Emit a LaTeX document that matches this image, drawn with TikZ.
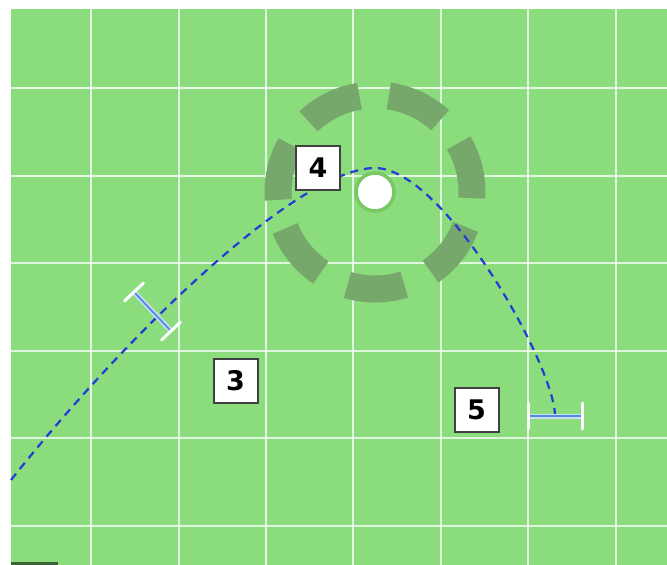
\documentclass[tikz,border=0pt]{standalone}
\usepackage{fontspec}
\setmainfont{DejaVu Sans}
\usepackage{xcolor}
\usetikzlibrary{calc}
\definecolor{fieldgreen}{RGB}{139,220,124}
\definecolor{ringgreen}{RGB}{118,168,108}
\definecolor{trackblue}{RGB}{35,60,215}
\definecolor{stemblue}{RGB}{80,140,225}
\definecolor{ballrim}{RGB}{120,200,100}

\begin{document}
\begin{tikzpicture}[
    x=1pt, y=-1pt,
    gridline/.style={draw=white, draw opacity=0.75, line width=2.2pt},
    ringdash/.style={draw=ringgreen, line width=27pt},
    track/.style={draw=trackblue, line width=2.2pt, dash pattern=on 8pt off 6pt},
    stem/.style={draw=stemblue, line width=1.8pt},
    stemglow/.style={draw=stemblue!30!white, line width=5pt},
    endbar/.style={draw=white, line width=3pt, line cap=round},
    tag/.style={draw=black!75, line width=2pt, fill=white,
                minimum size=44pt, inner sep=0pt,
                font=\bfseries\fontsize{27}{27}\selectfont},
    ball/.style={circle, fill=white, draw=ballrim, line width=3.5pt,
                 minimum size=38pt, inner sep=0pt}
  ]

  % ===== FIELD =====
  \useasboundingbox (0,0) rectangle (667,565);
  \fill[white] (0,0) rectangle (667,565);
  \fill[fieldgreen] (11,9) rectangle (667,565);
  \foreach \x in {91,179,266,353,441,528,616}
    \draw[gridline] (\x,9) -- (\x,565);
  \foreach \y in {88,176,263,351,438,526}
    \draw[gridline] (11,\y) -- (667,\y);
  \fill[black!55!fieldgreen] (11,562) rectangle (58,565);

  % ===== TARGET RING =====
  \coordinate (hub) at (375,192);
  \foreach \a in {0,...,6}
    \draw[ringdash] ($(hub)+({-47.8-51.43*\a}:97)$)
      arc[start angle={-47.8-51.43*\a}, end angle={-81.8-51.43*\a}, radius=97];
  \node[ball] (ball) at (hub) {};

  % ===== TRACK =====
  \coordinate (entry) at (11,480);
  \coordinate (apex)  at (375,168);
  \coordinate (exit)  at (555,416);
  \draw[track] (entry) .. controls (130,330) and (300,168) .. (apex)
                       .. controls (444,168) and (555,366) .. (exit);

  % ===== MARKERS =====
  \coordinate (pinA) at (134,292);
  \coordinate (pinB) at (171,331);
  \draw[stemglow] (pinA) -- (pinB);
  \draw[stem] (pinA) -- (pinB);
  \draw[endbar] ($(pinA)!13pt!90:(pinB)$) -- ($(pinA)!13pt!-90:(pinB)$);
  \draw[endbar] ($(pinB)!13pt!90:(pinA)$) -- ($(pinB)!13pt!-90:(pinA)$);

  \coordinate (pinC) at (528,416);
  \coordinate (pinD) at (582,416);
  \draw[stemglow] (pinC) -- (pinD);
  \draw[stem] (pinC) -- (pinD);
  \draw[endbar] ($(pinC)!13pt!90:(pinD)$) -- ($(pinC)!13pt!-90:(pinD)$);
  \draw[endbar] ($(pinD)!13pt!90:(pinC)$) -- ($(pinD)!13pt!-90:(pinC)$);

  % ===== TAGS =====
  \node[tag] (tagthree) at (235.5,380.5) {3};
  \node[tag] (tagfour)  at (318,168)     {4};
  \node[tag] (tagfive)  at (476.5,410)   {5};

\end{tikzpicture}
\end{document}
